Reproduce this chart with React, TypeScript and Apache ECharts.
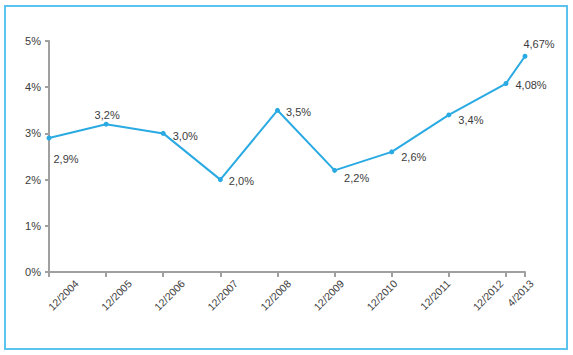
import React, { useEffect, useRef } from "react";
import * as echarts from "echarts";

// months after 12/2004
const monthOffsets = [0, 12, 24, 36, 48, 60, 72, 84, 96, 100];
const dateLabels = ["12/2004", "12/2005", "12/2006", "12/2007", "12/2008", "12/2009", "12/2010", "12/2011", "12/2012", "4/2013"];
const rates = [2.9, 3.2, 3.0, 2.0, 3.5, 2.2, 2.6, 3.4, 4.08, 4.67];
const rateLabels = ["2,9%", "3,2%", "3,0%", "2,0%", "3,5%", "2,2%", "2,6%", "3,4%", "4,08%", "4,67%"];
const yTicks = [0, 1, 2, 3, 4, 5];

// layout: slots where the (evenly spread) date labels sit in the label strip
const labelSlots = [0, 1, 2, 3, 4, 5, 6, 7, 8, 8.57];

const labelPlacement: any[] = [
  { position: "right", offset: [-3, 21] },
  { position: "top", offset: [1, 4] },
  { position: "right", offset: [2, 3] },
  { position: "right", offset: [1, 1] },
  { position: "right", offset: [1, 2] },
  { position: "right", offset: [2, 8] },
  { position: "right", offset: [2, 5] },
  { position: "right", offset: [2, 5] },
  { position: "right", offset: [2, 1] },
  { position: "top", offset: [14, 1] },
];

export default function App() {
  const ref = useRef<HTMLDivElement>(null);
  useEffect(() => {
    const chart = echarts.init(ref.current!, null, { renderer: "svg" });
    const textColor = "#3c3c3c";
    const axisColor = "#a0a0a0";
    chart.setOption({
      animation: false,
      backgroundColor: "#ffffff",
      textStyle: { fontFamily: "Liberation Sans, Arial, sans-serif" },
      graphic: [
        {
          type: "rect",
          shape: { x: 5, y: 6, width: 562, height: 343 },
          style: { fill: "none", stroke: "#5cc3ee", lineWidth: 2 },
          silent: true,
        },
      ],
      grid: [
        { left: 49, right: 48, top: 41, bottom: 83, containLabel: false },
        { left: 77, right: 41, top: 41, bottom: 83, containLabel: false },
      ],
      xAxis: [
        {
          type: "value",
          gridIndex: 0,
          min: monthOffsets[0],
          max: monthOffsets[monthOffsets.length - 1],
          interval: 12,
          splitLine: { show: false },
          axisLine: { show: true, lineStyle: { color: axisColor, width: 2 } },
          axisTick: { show: true, length: 5, lineStyle: { color: axisColor, width: 2 } },
          axisLabel: { show: false },
        },
        {
          type: "value",
          gridIndex: 1,
          min: labelSlots[0],
          max: labelSlots[labelSlots.length - 1],
          interval: 1,
          splitLine: { show: false },
          axisLine: { show: false },
          axisTick: { show: false },
          axisLabel: {
            show: true,
            rotate: 45,
            color: textColor,
            fontSize: 10.5,
            margin: 10,
            showMinLabel: true,
            showMaxLabel: true,
            formatter: (v: number) => {
              const i = labelSlots.indexOf(v);
              return i >= 0 ? dateLabels[i] : "";
            },
          },
        },
      ],
      yAxis: [
        {
          type: "value",
          gridIndex: 0,
          min: yTicks[0],
          max: yTicks[yTicks.length - 1],
          interval: 1,
          splitLine: { show: false },
          axisLine: { show: true, lineStyle: { color: axisColor, width: 2 } },
          axisTick: { show: true, length: 4, lineStyle: { color: axisColor, width: 2 } },
          axisLabel: {
            color: textColor,
            fontSize: 11,
            margin: 8,
            padding: [0, 0, 6, 0],
            formatter: "{value}%",
          },
        },
        { type: "value", gridIndex: 1, show: false, min: 0, max: 1 },
      ],
      series: [
        {
          type: "line",
          xAxisIndex: 0,
          yAxisIndex: 0,
          data: rates.map((r, i) => ({
            value: [monthOffsets[i], r],
            label: {
              show: true,
              formatter: rateLabels[i],
              color: textColor,
              fontSize: 11,
              ...labelPlacement[i],
            },
          })),
          symbol: "circle",
          symbolSize: 5,
          showSymbol: true,
          lineStyle: { color: "#2aaae2", width: 2 },
          itemStyle: { color: "#2aaae2" },
        },
      ],
    });
    return () => chart.dispose();
  }, []);
  return (
    <div
      ref={ref}
      style={{ position: "fixed", left: 0, top: 0, width: 573, height: 355 }}
    />
  );
}
